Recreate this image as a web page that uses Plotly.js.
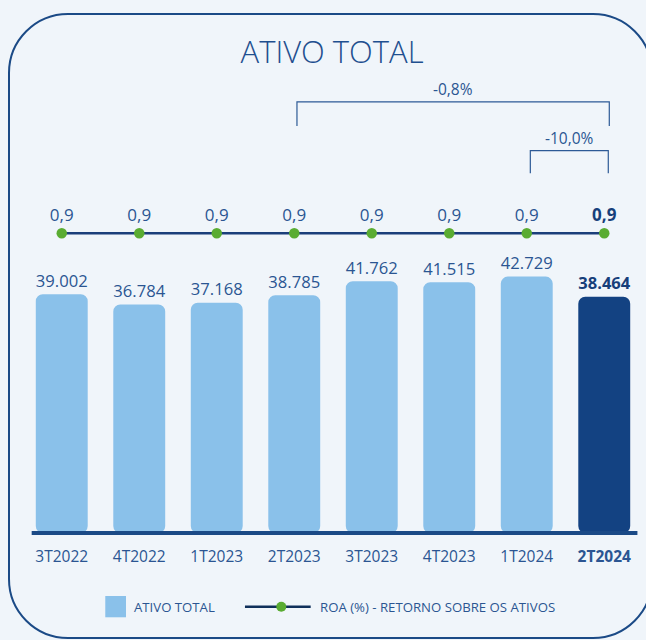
<!DOCTYPE html>
<html>
<head>
<meta charset="utf-8">
<script src="https://cdn.plot.ly/plotly-3.0.1.min.js"></script>
<style>
html,body{margin:0;padding:0;background:#f0f5fa;overflow:hidden;width:646px;height:640px;}
#frame{position:absolute;left:8px;top:13px;width:645px;height:626px;border:2.5px solid #1b4a86;border-radius:60px;box-sizing:border-box;}
#chart{position:absolute;left:0;top:0;width:646px;height:640px;}
</style>
</head>
<body>
<div id="frame"></div>
<div id="chart"></div>
<script>
const categories = ["3T2022","4T2022","1T2023","2T2023","3T2023","4T2023","1T2024","2T2024"];
const ativoTotal = [39002, 36784, 37168, 38785, 41762, 41515, 42729, 38464];
const roa = [0.9, 0.9, 0.9, 0.9, 0.9, 0.9, 0.9, 0.9];
const brackets = [
  {from: "2T2023", to: "2T2024", label: "-0,8%"},
  {from: "1T2024", to: "2T2024", label: "-10,0%"}
];
const seriesNames = ["ATIVO TOTAL", "ROA (%) - RETORNO SOBRE OS ATIVOS"];

const LIGHT = "#8ac1ea", DARK = "#134282", TXT = "#2b5592", LINE = "#1b3f7a", GREEN = "#5aac32";
const NUMFONT = "Open Sans", LBLFONT = "Open Sans";
const Y_MIN = -11800, Y_MAX = 88800;
const last = categories.length - 1;

function fmtThousands(v){ return String(v).replace(/\B(?=(\d{3})+(?!\d))/g, "."); }
function fmtDec(v){ return v.toFixed(1).replace(".", ","); }

const xIdx = categories.map((c,i)=>i);
const barText = ativoTotal.map((v,i)=> i===last ? "<b>"+fmtThousands(v)+"</b>" : fmtThousands(v));
const roaText = roa.map((v,i)=> i===last ? "<b>"+fmtDec(v)+"</b>" : fmtDec(v));
const tickText = categories.map((c,i)=> i===last ? "<b>"+c+"</b>" : c);

const bars = {
  type: "bar", x: xIdx, y: ativoTotal.map(v=>v - Y_MIN), base: Y_MIN, name: seriesNames[0],
  marker: {color: ativoTotal.map((v,i)=> i===last ? DARK : LIGHT), cornerradius: 7},
  text: barText, textposition: "outside", cliponaxis: false,
  textfont: {family: NUMFONT, size: 18, color: ativoTotal.map((v,i)=> i===last ? "#173f7a" : TXT)},
  hoverinfo: "skip", showlegend: false
};
const line = {
  type: "scatter", mode: "lines+markers+text", x: xIdx, y: roa, yaxis: "y2",
  name: seriesNames[1],
  line: {color: LINE, width: 2.5},
  marker: {color: GREEN, size: 10.5},
  text: roaText, textposition: "top center", cliponaxis: false,
  textfont: {family: NUMFONT, size: 17, color: roa.map((v,i)=> i===last ? "#173f7a" : TXT)},
  hoverinfo: "skip", showlegend: false
};

const shapes = [
  {type: "line", xref: "paper", yref: "paper", x0: 0.014, x1: 0.991, y0: 0, y1: 0,
   line: {color: "#1b4a86", width: 4}}
];
const annotations = [];
const bracketLevels = [[0.9114, 0.8605], [0.8082, 0.7605]];
const bracketOffsets = [[0.035, 0.065], [0.046, 0.052]];
brackets.forEach((b, k)=>{
  const x0 = categories.indexOf(b.from) + bracketOffsets[k][0];
  const x1 = categories.indexOf(b.to) + bracketOffsets[k][1];
  const [yt, yb] = bracketLevels[k];
  shapes.push({type: "path", xref: "x", yref: "paper",
    path: `M ${x0} ${yb} L ${x0} ${yt} L ${x1} ${yt} L ${x1} ${yb}`,
    line: {color: "#2d5a96", width: 1.2}});
  annotations.push({xref: "x", yref: "paper", x: (x0+x1)/2, y: yt, yanchor: "bottom",
    text: b.label, showarrow: false, yshift: 0,
    font: {family: LBLFONT, size: 15.5, color: TXT}});
});

// custom legend
const LEG_Y = -0.1558;
shapes.push({type: "rect", xref: "paper", yref: "paper", x0: 0.1327, x1: 0.1661, y0: -0.1332, y1: -0.1782,
  fillcolor: LIGHT, line: {width: 0}});
shapes.push({type: "line", xref: "paper", yref: "paper", x0: 0.358, x1: 0.464, y0: LEG_Y, y1: LEG_Y,
  line: {color: "#10305a", width: 2.5}});
shapes.push({type: "circle", xref: "paper", yref: "paper", xsizemode: "pixel", ysizemode: "pixel",
  xanchor: 0.4166, yanchor: LEG_Y, x0: -5, x1: 5, y0: -5, y1: 5, fillcolor: GREEN, line: {width: 0}});
annotations.push({xref: "paper", yref: "paper", x: 0.176, y: LEG_Y, xanchor: "left", yanchor: "middle",
  text: seriesNames[0], showarrow: false, font: {family: LBLFONT, size: 13.2, color: TXT}});
annotations.push({xref: "paper", yref: "paper", x: 0.476, y: LEG_Y, xanchor: "left", yanchor: "middle",
  text: seriesNames[1], showarrow: false, font: {family: LBLFONT, size: 13.2, color: TXT}});

const layout = {
  width: 646, height: 640,
  margin: {l: 23, r: 3, t: 60, b: 107},
  paper_bgcolor: "rgba(0,0,0,0)", plot_bgcolor: "rgba(0,0,0,0)",
  title: {text: "ATIVO TOTAL", x: 0.514, xanchor: "center", y: 0.919, yanchor: "middle", yref: "container",
    font: {family: LBLFONT, size: 31, weight: 300, color: "#1f4f8f"}},
  bargap: 0.33,
  showlegend: false,
  xaxis: {range: [-0.5, 7.5], tickvals: xIdx, ticktext: tickText, showgrid: false, zeroline: false,
    showline: false, ticks: "", ticklabelstandoff: 12,
    tickfont: {family: LBLFONT, size: 15.5, color: TXT}, fixedrange: true},
  yaxis: {range: [Y_MIN, Y_MAX], visible: false, showgrid: false, zeroline: false, fixedrange: true},
  yaxis2: {range: [0, 1.42], overlaying: "y", visible: false, showgrid: false, zeroline: false, fixedrange: true},
  shapes: shapes, annotations: annotations
};

Plotly.newPlot("chart", [bars, line], layout, {displayModeBar: false, staticPlot: true});
</script>
</body>
</html>
